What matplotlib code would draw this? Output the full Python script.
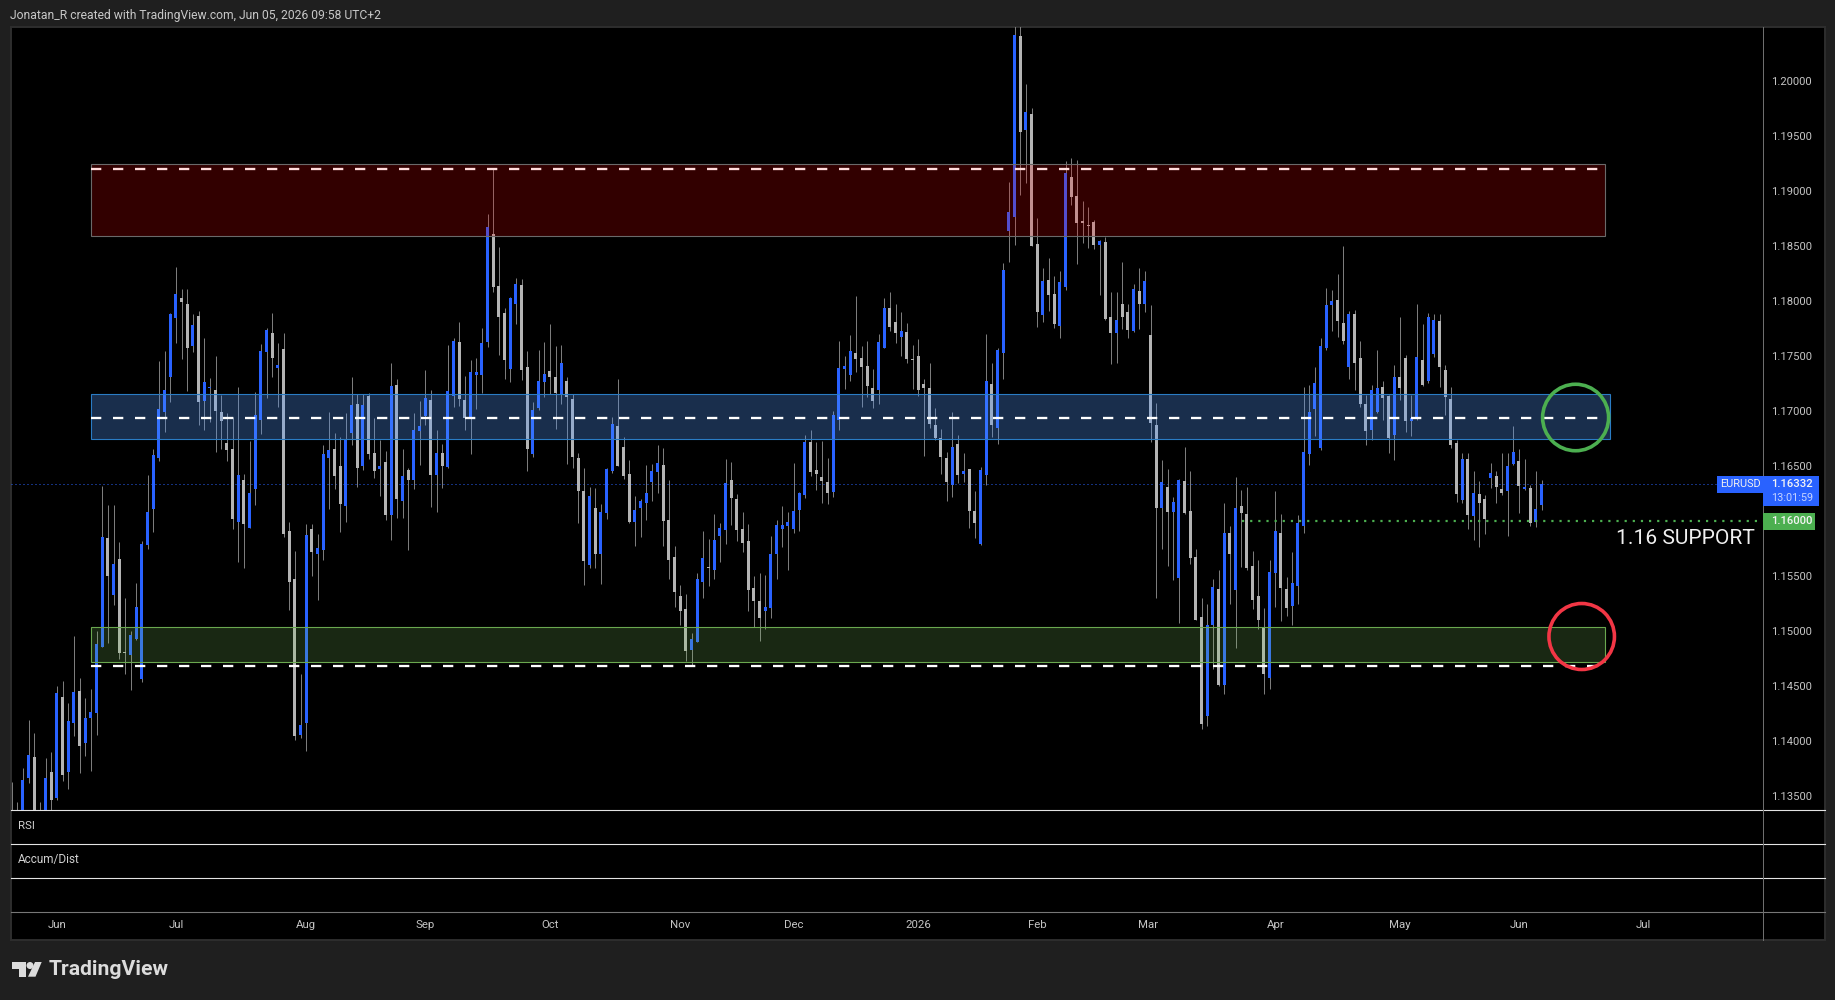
import matplotlib
matplotlib.use("Agg")
import matplotlib.pyplot as plt
from matplotlib.patches import Rectangle, Ellipse, Polygon
from matplotlib.lines import Line2D
import numpy as np

plt.rcParams['font.family'] = ['Roboto', 'DejaVu Sans']

# ---- data ----
highs = [
1.13629,1.13448,1.13754,1.14193,1.14074,1.13448,1.13844,1.13902,1.14501,1.14547,
1.14347,1.14955,1.14574,1.14392,1.14474,1.15001,1.16318,1.16145,1.16145,1.15809,
1.15301,1.15001,1.15437,1.15818,1.16418,1.16651,1.17453,1.17544,1.17892,1.18307,
1.18107,1.18107,1.17880,1.17907,1.17662,1.17299,1.17499,1.17144,1.16981,1.16942,
1.17217,1.16427,1.16727,1.17172,1.17608,1.17753,1.17889,1.17617,1.17708,1.15991,
1.15728,1.14610,1.15973,1.15973,1.15882,1.16690,1.16990,1.16799,1.16763,1.16981,
1.17308,1.17154,1.17154,1.17166,1.16936,1.16736,1.16636,1.17435,1.17290,1.16651,
1.16481,1.16981,1.17090,1.17372,1.17190,1.16827,1.16699,1.17599,1.17662,1.17807,
1.17317,1.17462,1.17480,1.17753,1.18788,1.19197,1.18489,1.17935,1.18035,1.18207,
1.18198,1.17544,1.17081,1.17553,1.17626,1.17789,1.17589,1.17599,1.17308,1.17154,
1.16618,1.16481,1.16309,1.16300,1.16154,1.16481,1.16945,1.17290,1.16763,1.16554,
1.16227,1.16200,1.16509,1.16518,1.16690,1.16663,1.16372,1.15773,1.15419,1.15337,
1.14983,1.15528,1.15909,1.15837,1.16064,1.15982,1.16563,1.16536,1.16245,1.16082,
1.15973,1.15500,1.15528,1.15506,1.15864,1.16009,1.16136,1.16082,1.16527,1.16263,
1.16781,1.16827,1.16718,1.16727,1.16572,1.16999,1.17635,1.17499,1.17689,1.18044,
1.17589,1.17635,1.17381,1.17698,1.18025,1.18080,1.17971,1.17898,1.17798,1.17599,
1.17650,1.17290,1.17435,1.17026,1.16836,1.16627,1.16990,1.16781,1.16618,1.16472,
1.16272,1.16490,1.17698,1.17435,1.17571,1.18343,1.19079,1.20581,1.20550,1.19969,
1.19751,1.18752,1.18298,1.18389,1.18225,1.18271,1.19270,1.19297,1.19279,1.18906,
1.18852,1.18734,1.18552,1.18580,1.18080,1.18080,1.18352,1.17971,1.18153,1.18298,
1.18271,1.17962,1.17072,1.16554,1.16472,1.16218,1.16381,1.16672,1.16454,1.15746,
1.15301,1.15246,1.15473,1.15555,1.16163,1.15955,1.16400,1.16282,1.16309,1.15728,
1.15646,1.15210,1.15646,1.16272,1.16064,1.15494,1.15718,1.16054,1.17217,1.17235,
1.17399,1.17662,1.18116,1.18098,1.18243,1.18498,1.17907,1.17916,1.17635,1.17144,
1.17235,1.17553,1.17272,1.17144,1.17417,1.17853,1.17508,1.17144,1.17971,1.17789,
1.17889,1.17880,1.17880,1.17417,1.17217,1.16736,1.16618,1.16618,1.16454,1.16363,
1.16236,1.16527,1.16454,1.16618,1.16618,1.16863,1.16654,1.16563,1.16327,1.16454,
1.16372]

lows = [
1.13133,1.13163,1.13239,1.13623,1.13284,1.13254,1.13269,1.13375,1.13466,1.13642,
1.13566,1.14047,1.13711,1.13866,1.13729,1.14056,1.14856,1.14892,1.15237,1.14747,
1.14610,1.14465,1.14919,1.14538,1.15746,1.15900,1.16545,1.16808,1.17084,1.17617,
1.17471,1.17181,1.17535,1.16872,1.16827,1.16899,1.16627,1.16651,1.16545,1.15927,
1.15628,1.15573,1.15936,1.16145,1.16790,1.17117,1.17308,1.17035,1.15855,1.15192,
1.14011,1.14029,1.13911,1.15500,1.15282,1.15646,1.16109,1.16291,1.15900,1.15991,
1.16690,1.16309,1.16463,1.16563,1.16391,1.16227,1.16009,1.15827,1.16027,1.16027,
1.15737,1.16291,1.16509,1.16872,1.16127,1.16082,1.16300,1.16481,1.17035,1.17045,
1.16827,1.16609,1.17017,1.17163,1.17580,1.18080,1.17508,1.17290,1.17263,1.17789,
1.17281,1.16454,1.16581,1.17008,1.17126,1.17154,1.16836,1.17063,1.16518,1.16481,
1.15982,1.15419,1.15573,1.15573,1.15428,1.16018,1.16436,1.16500,1.16381,1.15982,
1.15773,1.15855,1.16009,1.16182,1.16254,1.15773,1.15473,1.15219,1.15055,1.14728,
1.14692,1.14901,1.15301,1.15410,1.15473,1.15628,1.15791,1.15964,1.15818,1.15718,
1.15183,1.15037,1.14910,1.15019,1.15119,1.15473,1.15764,1.15555,1.15891,1.15909,
1.16209,1.16409,1.16282,1.16163,1.16154,1.16218,1.16827,1.17199,1.17272,1.17353,
1.17035,1.17126,1.17026,1.17063,1.17571,1.17726,1.17617,1.17499,1.17435,1.17199,
1.17135,1.16593,1.16845,1.16736,1.16427,1.16182,1.16218,1.16345,1.16354,1.15936,
1.15846,1.15782,1.16327,1.16763,1.16699,1.17290,1.18352,1.18507,1.18961,1.19070,
1.18498,1.17762,1.17807,1.17907,1.17753,1.17662,1.18098,1.18870,1.18334,1.18525,
1.18480,1.18471,1.18053,1.17826,1.17426,1.17435,1.17744,1.17662,1.17717,1.17744,
1.17898,1.16718,1.15301,1.15746,1.15591,1.15464,1.15074,1.16064,1.15609,1.15101,
1.14111,1.14138,1.14656,1.14501,1.14429,1.15246,1.14846,1.15585,1.15555,1.15201,
1.15022,1.14429,1.14474,1.15222,1.15092,1.15137,1.15058,1.15246,1.15891,1.16509,
1.16772,1.16645,1.17553,1.17726,1.17671,1.17608,1.17290,1.17190,1.17035,1.16690,
1.16736,1.16978,1.16917,1.16618,1.16554,1.17099,1.16808,1.16772,1.16917,1.17226,
1.17251,1.17493,1.17220,1.16963,1.16663,1.16173,1.16160,1.15927,1.15827,1.15764,
1.15882,1.16300,1.16163,1.16236,1.15864,1.16509,1.16073,1.16282,1.15955,1.15946,
1.16100]

opens = [
1.13314,1.13254,1.13314,1.13669,1.13856,1.13360,1.13314,1.13720,1.13484,1.14401,
1.13720,1.14165,1.14456,1.13984,1.14211,1.14256,1.14856,1.15846,1.15328,1.15655,
1.14810,1.14783,1.14928,1.14565,1.15782,1.16109,1.16572,1.16990,1.17308,1.17844,
1.18025,1.17971,1.17589,1.17862,1.17090,1.17205,1.17190,1.16990,1.16708,1.16654,
1.15991,1.16372,1.15936,1.16291,1.16917,1.17535,1.17708,1.17390,1.17562,1.15909,
1.15473,1.14056,1.14165,1.15927,1.15700,1.15737,1.16572,1.16654,1.16500,1.16136,
1.16799,1.17063,1.16500,1.17135,1.16618,1.16472,1.16536,1.16054,1.17235,1.16182,
1.16463,1.16372,1.16817,1.16954,1.17099,1.16418,1.16618,1.16490,1.17135,1.17626,
1.17099,1.16936,1.17326,1.17326,1.17626,1.18607,1.18134,1.17889,1.17381,1.17971,
1.18144,1.17399,1.16609,1.17026,1.17263,1.17362,1.17308,1.17144,1.17272,1.17108,
1.16572,1.16272,1.15600,1.16118,1.15700,1.16073,1.16454,1.16863,1.16672,1.16427,
1.15991,1.16118,1.16163,1.16354,1.16445,1.16509,1.16009,1.15673,1.15319,1.15201,
1.14828,1.14901,1.15446,1.15582,1.15555,1.15864,1.15918,1.16372,1.16200,1.15927,
1.15818,1.15391,1.15273,1.15183,1.15210,1.15700,1.15927,1.15955,1.15927,1.16100,
1.16236,1.16718,1.16463,1.16400,1.16354,1.16263,1.16917,1.17381,1.17326,1.17526,
1.17480,1.17408,1.17208,1.17190,1.17571,1.17935,1.17807,1.17671,1.17717,1.17471,
1.17499,1.17244,1.17208,1.16872,1.16754,1.16572,1.16327,1.16699,1.16427,1.16472,
1.16091,1.15791,1.16418,1.17244,1.16845,1.17526,1.18634,1.18761,1.20405,1.19551,
1.19697,1.18516,1.17871,1.18189,1.18062,1.17771,1.18125,1.19124,1.18952,1.18725,
1.18688,1.18716,1.18507,1.18534,1.17853,1.17708,1.17971,1.17898,1.17726,1.18089,
1.17971,1.17689,1.16872,1.16118,1.16309,1.16082,1.15482,1.16363,1.16091,1.15673,
1.15128,1.14229,1.15055,1.15382,1.14510,1.15891,1.15373,1.16136,1.16064,1.15591,
1.15319,1.15025,1.14577,1.15528,1.15891,1.15382,1.15228,1.15410,1.15955,1.16609,
1.17017,1.16663,1.17571,1.17962,1.18007,1.17798,1.17399,1.17880,1.17480,1.17063,
1.16827,1.16990,1.17217,1.17135,1.16781,1.17308,1.17480,1.16908,1.16926,1.17462,
1.17272,1.17517,1.17817,1.17372,1.17108,1.16708,1.16191,1.16563,1.16045,1.16245,
1.16200,1.16391,1.16409,1.16291,1.16272,1.16518,1.16545,1.16291,1.16300,1.15991,
1.16145]

closes = [
1.13193,1.13330,1.13648,1.13875,1.13330,1.13299,1.13666,1.13466,1.14438,1.13693,
1.14183,1.14447,1.13956,1.14211,1.14265,1.14883,1.15855,1.15500,1.15609,1.14801,
1.14804,1.14965,1.15219,1.15791,1.16082,1.16599,1.17014,1.17190,1.17880,1.18062,
1.17989,1.17571,1.17780,1.17081,1.17263,1.17211,1.16999,1.16908,1.16645,1.16018,
1.16418,1.15973,1.16254,1.16963,1.17544,1.17735,1.17480,1.17417,1.15882,1.15446,
1.14047,1.14147,1.15873,1.15718,1.15755,1.16609,1.16645,1.16409,1.16154,1.16736,
1.17054,1.16481,1.17054,1.16609,1.16454,1.16500,1.16054,1.17226,1.16200,1.16409,
1.16372,1.16827,1.16863,1.17117,1.16418,1.16618,1.16500,1.17181,1.17635,1.17108,
1.16936,1.17353,1.17353,1.17617,1.18670,1.18125,1.17853,1.17462,1.18025,1.18153,
1.17372,1.16654,1.17008,1.17272,1.17335,1.17308,1.17163,1.17435,1.17126,1.16581,
1.16272,1.15637,1.16227,1.15700,1.16082,1.16472,1.16881,1.16500,1.16409,1.15991,
1.16100,1.16182,1.16254,1.16454,1.16527,1.16000,1.15646,1.15355,1.15183,1.14819,
1.14928,1.15473,1.15664,1.15576,1.15827,1.15936,1.16345,1.16209,1.15918,1.15800,
1.15373,1.15273,1.15119,1.15219,1.15700,1.15964,1.15964,1.15991,1.16091,1.16254,
1.16718,1.16445,1.16427,1.16363,1.16254,1.16963,1.17390,1.17408,1.17544,1.17471,
1.17399,1.17226,1.17090,1.17626,1.17935,1.17762,1.17708,1.17726,1.17471,1.17465,
1.17190,1.17208,1.16881,1.16754,1.16581,1.16354,1.16672,1.16418,1.16454,1.16091,
1.15982,1.16463,1.17272,1.16872,1.17553,1.18280,1.18807,1.20414,1.19533,1.19715,
1.18498,1.17898,1.18180,1.18053,1.17789,1.18171,1.19161,1.18943,1.18707,1.18707,
1.18682,1.18507,1.18543,1.17835,1.17708,1.17826,1.17853,1.17735,1.18107,1.17971,
1.18180,1.16890,1.16118,1.16354,1.16082,1.16173,1.16372,1.16073,1.15664,1.15101,
1.14156,1.15055,1.15401,1.14510,1.15891,1.15700,1.16118,1.16073,1.15573,1.15282,
1.15101,1.14610,1.15537,1.15909,1.15391,1.15210,1.15437,1.15982,1.16627,1.16990,
1.17253,1.17589,1.17962,1.17998,1.17817,1.17635,1.17880,1.17435,1.17063,1.16817,
1.17190,1.17208,1.17117,1.16754,1.17308,1.17208,1.16908,1.16936,1.17490,1.17235,
1.17853,1.17826,1.17399,1.17126,1.16690,1.16245,1.16563,1.16054,1.16254,1.16163,
1.16018,1.16436,1.16309,1.16254,1.16500,1.16627,1.16318,1.16309,1.15982,1.16109,
1.16332]

price_ticks = [1.135,1.14,1.145,1.15,1.155,1.165,1.17,1.175,1.18,1.185,1.19,1.195,1.20]
month_positions = [8,29,52,73,95,118,138,160,181,200.5,223,245,266,288]
month_labels = ['Jun','Jul','Aug','Sep','Oct','Nov','Dec','2026','Feb','Mar','Apr','May','Jun','Jul']

resistance_zone = (1.18586, 1.19240)
pivot_zone = (1.16742, 1.17151)
support_zone = (1.14717, 1.15034)
resistance_level = 1.19197
pivot_level = 1.16936
support_level = 1.14683
support_line = 1.16000
last_price = 1.16332

title = 'Jonatan_R created with TradingView.com, Jun 05, 2026 09:58 UTC+2'

# ---- layout (pixels, origin top-left) ----
W, H = 1835, 1000
BG = '#1f1f1f'
fig = plt.figure(figsize=(W/100, H/100), dpi=100, facecolor=BG)
PX = 0.72  # points per pixel

def fx(x): return x / W
def fy(y): return 1 - y / H
def pane(x0, y0, x1, y1, **kw):
    return fig.add_axes([fx(x0), fy(y1), fx(x1) - fx(x0), fy(y0) - fy(y1)], **kw)

L, AX, R, T, B = 10.7, 1763.4, 1825, 27, 940
P1, P2, P3, P4 = 810.3, 844, 878, 912

bg = pane(L, T, R, B, facecolor='black')
bg.set_xticks([]); bg.set_yticks([])
for s in bg.spines.values():
    s.set_color('#2e2e2e'); s.set_linewidth(1.4)

step = 5.667
first = 11.5
xlim = ((L - first) / step, (AX - first) / step)
ylim = (1.16 + (521 - P1) / 11010, 1.16 + (521 - T) / 11010)

ax = pane(L, T, AX, P1, facecolor='none')
ax.set_xlim(*xlim); ax.set_ylim(*ylim)
for s in ax.spines.values():
    s.set_visible(False)

xs = np.arange(len(closes))
o, c, h, l = map(np.array, (opens, closes, highs, lows))
up = c >= o
BLUE, GRAY, WICK = '#2962ff', '#b4b4b4', '#7c7c7c'

ax.vlines(xs, l, h, colors=WICK, linewidth=1 * PX, zorder=2)
body_h = np.maximum(np.abs(c - o), 0.00009)
body_b = np.minimum(o, c)
bar_w = 3.1 / step
ax.bar(xs[up], body_h[up], bottom=body_b[up], width=bar_w, color=BLUE, linewidth=0, zorder=2.1)
ax.bar(xs[~up], body_h[~up], bottom=body_b[~up], width=bar_w, color=GRAY, linewidth=0, zorder=2.1)

def to_i(px): return (px - first) / step

# zones
zx0 = to_i(90.5)
zones = [
    (resistance_zone, to_i(1604.5), (1, 0, 0, 0.2), '#6a6a6a'),
    (pivot_zone, to_i(1609.6), (0.325, 0.6, 1, 0.3), '#2a7cc4'),
    (support_zone, to_i(1604.5), (0.51, 0.80, 0.39, 0.2), '#6aa84f'),
]
for (lo, hi), x1, fc, ec in zones:
    ax.add_patch(Rectangle((zx0, lo), x1 - zx0, hi - lo, facecolor=fc, edgecolor='none', zorder=3))
    ax.add_patch(Rectangle((zx0, lo), x1 - zx0, hi - lo, facecolor='none', edgecolor=ec, linewidth=1.1 * PX, zorder=3.1))

dx1 = to_i(1598)
lw_dash = 2.3
for lvl, col in ((resistance_level, '#ffdcdc'), (pivot_level, 'white'), (support_level, 'white')):
    ax.plot([zx0, dx1], [lvl, lvl], color=col, linewidth=lw_dash * PX,
            dashes=(10.3 / lw_dash, 11.7 / lw_dash), dash_capstyle='butt', zorder=4)

# last price & support lines
ax.plot(list(xlim), [last_price, last_price], color=BLUE, linewidth=1 * PX, dashes=(1, 3), zorder=1.5)
ax.plot([to_i(1242), xlim[1]], [support_line, support_line], color='#4caf50', linewidth=2.2 * PX,
        dashes=(1, 2.7), zorder=4)

# price axis
ax.yaxis.tick_right()
ax.set_yticks(price_ticks)
ax.set_yticklabels([f'{p:.5f}' for p in price_ticks], fontsize=8.1, color='#c4c4c4')
ax.tick_params(axis='y', length=0, pad=5.2)
ax.set_xticks([])

# indicator panes
for y0, y1, name, size in ((P1, P2, 'RSI', 8.2), (P2, P3, 'Accum/Dist', 8.5)):
    fig.text(fx(18), fy((y0 + y1) / 2 - 1), name, color='#d0d0d0', fontsize=size, va='center', ha='left')

# time axis
tax = pane(L, P4, AX, B, facecolor='none')
tax.set_xlim(*xlim); tax.set_yticks([])
for s in tax.spines.values():
    s.set_visible(False)
tax.set_xticks(month_positions)
tax.set_xticklabels(month_labels, fontsize=8.2, color='#c4c4c4')
for lab in tax.get_xticklabels():
    if lab.get_text() == '2026':
        lab.set_fontweight('bold')
tax.xaxis.set_ticks_position('top')
tax.tick_params(axis='x', length=0, direction='in', labeltop=True, labelbottom=False, pad=-13)

# separators
for y, col in ((P1, '#e4e4e4'), (P2, '#e4e4e4'), (P3, '#e4e4e4'), (P4, '#777777')):
    fig.add_artist(Line2D([fx(L), fx(R)], [fy(y), fy(y)], color=col, linewidth=1.1 * PX, zorder=5))
fig.add_artist(Line2D([fx(AX), fx(AX)], [fy(T), fy(B)], color='#6e6e6e', linewidth=1 * PX, zorder=5))

# price labels
def box(x0, y0, x1, y1, col):
    fig.add_artist(Rectangle((fx(x0), fy(y1)), fx(x1) - fx(x0), fy(y0) - fy(y1), facecolor=col,
                             edgecolor='none', transform=fig.transFigure, zorder=6))
def label(x, y, s, col, size=8.1, weight='normal', ha='left'):
    t = fig.text(fx(x), fy(y), s, color=col, fontsize=size, va='center', ha=ha, fontweight=weight)
    t.set_zorder(7)

box(1717, 476, AX, 492.7, '#2962ff')
box(AX, 476, 1819, 505.7, '#2962ff')
box(AX, 513, 1815, 529.7, '#4caf50')
label(1720.5, 484.5, 'EURUSD', '#f0f0f0', 7.9)
label(1771, 484.5, f'{last_price:.5f}', '#f4f4f4', 8.1, 'medium')
label(1771, 497.5, '13:01:59', '#c6d4ff', 7.8)
label(1771, 521.5, f'{support_line:.5f}', '#f4f4f4', 8.1, 'medium')
label(1615.5, 539, '1.16 SUPPORT', '#f0f0f0', 15.1)

# circles
for cx, cy, d, col in ((1575.6, 417.5, 66, '#4caf50'), (1581.7, 636.5, 65.5, '#f23645')):
    fig.add_artist(Ellipse((fx(cx), fy(cy)), d / W, (d + 0.5) / H, facecolor='none', edgecolor=col,
                           linewidth=3.6 * PX, transform=fig.transFigure, zorder=6))

# header
fig.text(fx(10), fy(15), title, color='#c8c8c8', fontsize=8.7, va='center', ha='left')

# footer logo
LOGO = '#dcdcdc'
def pts(*p): return [(fx(x), fy(y)) for x, y in p]
fig.add_artist(Polygon(pts((12, 962), (26, 962), (26, 976.7), (19, 976.7), (19, 969), (12, 969)),
                       closed=True, facecolor=LOGO, edgecolor='none', transform=fig.transFigure))
fig.add_artist(Ellipse((fx(30), fy(965.5)), 7 / W, 7 / H, facecolor=LOGO, edgecolor='none',
                       transform=fig.transFigure))
fig.add_artist(Polygon(pts((35, 962), (41.7, 962), (35.5, 976.7), (28, 976.7)),
                       closed=True, facecolor=LOGO, edgecolor='none', transform=fig.transFigure))
fig.text(fx(49), fy(969.5), 'TradingView', color=LOGO, fontsize=15.2, fontweight='bold',
         va='center', ha='left')

fig.savefig('out.png', dpi=100, facecolor=BG)
